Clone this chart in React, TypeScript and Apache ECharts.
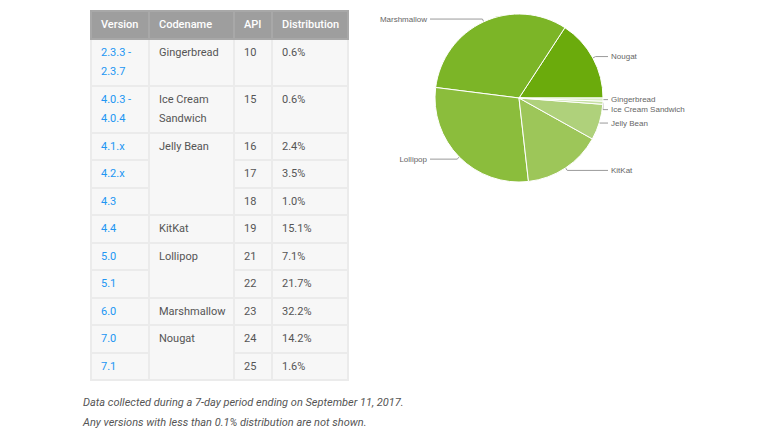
import React, { useEffect, useRef } from 'react';
import * as echarts from 'echarts';

// table rows, top to bottom
const versions = ['2.3.3 - 2.3.7', '4.0.3 - 4.0.4', '4.1.x', '4.2.x', '4.3', '4.4', '5.0', '5.1', '6.0', '7.0', '7.1'];
const codenames = ['Gingerbread', 'Ice Cream Sandwich', 'Jelly Bean', 'Jelly Bean', 'Jelly Bean', 'KitKat', 'Lollipop', 'Lollipop', 'Marshmallow', 'Nougat', 'Nougat'];
const apiLevels = [10, 15, 16, 17, 18, 19, 21, 22, 23, 24, 25];
const distribution = [0.6, 0.6, 2.4, 3.5, 1.0, 15.1, 7.1, 21.7, 32.2, 14.2, 1.6];

const headers = ['Version', 'Codename', 'API', 'Distribution'];
const colWidths = [58, 85, 38, 76];

// slice colours, newest release first (Nougat is drawn first, from 3 o'clock)
const sliceColors = ['#6bab0c', '#7cb527', '#8bbd3c', '#9dc659', '#afd17b', '#c6e0a3', '#d9ecc4'];

const footnotes = [
  'Data collected during a 7-day period ending on September 11, 2017.',
  'Any versions with less than 0.1% distribution are not shown.',
];

// group consecutive codenames -> rowspan + summed share
const groups: { name: string; start: number; span: number; total: number }[] = [];
codenames.forEach((name, i) => {
  const last = groups[groups.length - 1];
  if (last && last.name === name) {
    last.span += 1;
    last.total += distribution[i];
  } else {
    groups.push({ name, start: i, span: 1, total: distribution[i] });
  }
});

const PIE_CX = 159;
const PIE_CY = 98;
const PIE_R = 84;
const LABEL_GAP = 8; // text column sits this far outside the pie

const PieChart = () => {
  const chartRef = useRef<HTMLDivElement>(null);

  useEffect(() => {
    if (!chartRef.current) return;
    const chart = echarts.init(chartRef.current, null, { renderer: 'svg' });

    const pieData = groups
      .slice()
      .reverse()
      .map((g, i) => ({
        name: g.name,
        value: Math.round(g.total * 10) / 10,
        itemStyle: { color: sliceColors[i] },
      }));

    chart.setOption({
      animation: false,
      series: [
        {
          type: 'pie',
          center: [PIE_CX, PIE_CY],
          radius: PIE_R,
          startAngle: 0,
          clockwise: false,
          silent: true,
          minShowLabelAngle: 0,
          avoidLabelOverlap: true,
          itemStyle: { borderColor: '#fff', borderWidth: 1 },
          label: {
            show: true,
            position: 'outside',
            distanceToLabelLine: 3,
            formatter: '{b}',
            color: '#666',
            fontSize: 8,
            fontFamily: '"Liberation Sans", Arial, sans-serif',
          },
          labelLine: {
            show: true,
            length: 3,
            length2: 2,
            lineStyle: { color: '#9a9a9a', width: 1 },
          },
          // line the label texts up in one column on each side, like Google charts does
          labelLayout: (params: any) => {
            const pts = params.labelLinePoints;
            if (!pts) return {};
            const right = pts[0][0] >= PIE_CX;
            const x = right ? PIE_CX + PIE_R + LABEL_GAP : PIE_CX - PIE_R - LABEL_GAP;
            const y = pts[pts.length - 1][1];
            return {
              x,
              align: right ? 'left' : 'right',
              labelLinePoints: [pts[0], pts[1], [right ? x - 3 : x + 3, y]],
            };
          },
          data: pieData,
        },
      ],
    });

    return () => {
      chart.dispose();
    };
  }, []);

  return <div ref={chartRef} style={{ position: 'absolute', left: 360, top: 0, width: 422, height: 200 }} />;
};

const cellStyle: React.CSSProperties = {
  padding: '3px 9px',
  lineHeight: '19.5px',
  verticalAlign: 'top',
  border: '2px solid #ebebeb',
  color: '#555',
  textAlign: 'left',
};

const App = () => {
  return (
    <div
      style={{
        position: 'fixed',
        left: 0,
        top: 0,
        width: 782,
        height: 440,
        background: '#fff',
        fontFamily: 'Roboto, "Noto Sans", sans-serif',
        fontSize: 11,
      }}
    >
      <table
        style={{
          position: 'absolute',
          left: 90,
          top: 10,
          borderCollapse: 'collapse',
          tableLayout: 'fixed',
          width: colWidths.reduce((a, b) => a + b, 0),
          background: '#f7f7f7',
        }}
      >
        <colgroup>
          {colWidths.map((w, i) => (
            <col key={i} style={{ width: w }} />
          ))}
        </colgroup>
        <thead>
          <tr>
            {headers.map((h) => (
              <th
                key={h}
                style={{ ...cellStyle, background: '#9e9e9e', color: '#fff', fontWeight: 500, borderColor: '#a8a8a8' }}
              >
                {h}
              </th>
            ))}
          </tr>
        </thead>
        <tbody>
          {versions.map((v, i) => {
            const group = groups.find((g) => g.start === i);
            return (
              <tr key={v}>
                <td style={{ ...cellStyle, color: '#2196f3' }}>{v}</td>
                {group && (
                  <td rowSpan={group.span} style={cellStyle}>
                    {group.name}
                  </td>
                )}
                <td style={cellStyle}>{apiLevels[i]}</td>
                <td style={cellStyle}>{distribution[i].toFixed(1)}%</td>
              </tr>
            );
          })}
        </tbody>
      </table>

      <div
        style={{
          position: 'absolute',
          left: 83,
          top: 393,
          fontStyle: 'italic',
          color: '#555',
          lineHeight: '20px',
        }}
      >
        {footnotes.map((t) => (
          <div key={t}>{t}</div>
        ))}
      </div>

      <PieChart />
    </div>
  );
};

export default App;
